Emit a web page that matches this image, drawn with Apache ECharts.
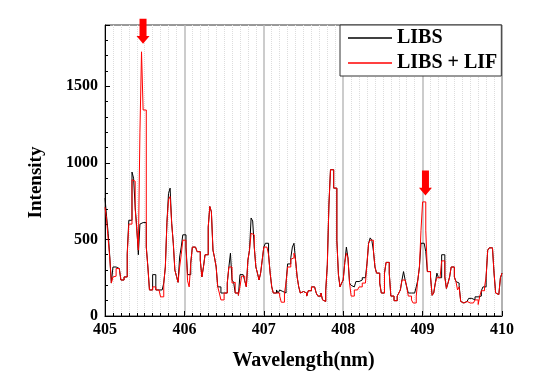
<!DOCTYPE html>
<html><head><meta charset="utf-8">
<script src="https://cdn.jsdelivr.net/npm/echarts@6/dist/echarts.min.js"></script>
<style>html,body{margin:0;padding:0;background:#fff}#c{width:552px;height:376px}</style>
</head><body><div id="c"></div>
<script>
const wlStart = 405, wlStep = 0.02;
const libs = [
770,650,540,390,215,320,320,310,310,300,
235,235,255,255,410,625,625,940,900,710,
580,400,600,610,610,610,450,320,170,170,
270,270,170,170,170,170,170,215,320,610,
800,835,605,475,300,260,220,385,450,530,
530,450,270,270,345,450,450,450,420,420,
365,255,320,400,400,580,715,680,430,380,
320,190,190,150,150,150,150,215,320,410,
235,220,150,150,135,270,270,280,230,190,
365,430,640,620,450,320,280,235,280,365,
450,475,475,400,280,190,150,150,170,150,
170,160,160,150,215,340,340,380,450,475,
365,255,190,150,160,160,150,130,165,165,
190,190,190,150,130,130,150,105,95,165,
335,725,955,955,835,835,495,270,190,215,
235,350,450,380,215,200,190,190,225,225,
235,235,250,250,250,345,475,510,495,430,
320,280,280,215,150,150,280,350,350,280,
130,130,100,100,130,150,170,235,290,235,
190,150,150,140,150,150,190,235,320,475,
475,475,420,290,290,255,135,150,215,280,
250,250,400,400,255,180,215,255,320,320,
255,225,215,200,95,85,95,95,105,115,
115,115,105,125,125,115,130,165,190,190,
255,430,445,445,445,280,150,140,140,250,280];
const libsLif = [
710,630,500,380,215,255,260,310,310,300,
235,235,255,255,400,600,600,890,880,700,
560,430,1200,1725,1345,1345,450,320,170,170,
190,190,170,170,160,125,125,215,320,610,
760,780,605,475,300,260,220,320,400,495,
495,450,230,190,345,450,450,450,420,420,
365,255,320,400,400,580,715,680,430,380,
320,190,150,105,105,150,150,215,320,320,
215,220,150,150,135,190,260,260,230,190,
365,430,540,530,450,320,280,235,280,365,
450,450,450,400,280,190,150,150,160,150,
130,90,90,150,215,320,320,370,380,410,
365,255,190,150,160,160,150,130,165,165,
190,190,190,150,130,130,150,105,95,165,
335,725,955,955,835,835,495,270,190,215,
235,350,410,380,215,130,130,170,170,170,
190,190,215,215,215,345,475,495,495,430,
320,280,280,215,150,150,280,350,350,280,
130,130,100,100,130,150,170,235,235,235,
190,130,130,105,85,85,130,235,320,560,
745,745,560,290,290,255,135,150,215,250,
250,250,360,360,255,180,215,255,320,320,
255,225,170,190,95,85,95,95,85,85,
95,85,95,105,105,75,130,165,165,190,
255,430,445,445,445,280,150,140,140,250,280];
const seriesNames = ['LIBS', 'LIBS + LIF'];
const arrowMarks = [[405.479, 1860], [409.036, 868]];
const yTicks = [0, 500, 1000, 1500];

const toPairs = arr => arr.map((v, i) => [+(wlStart + i * wlStep).toFixed(2), v]);
const serif = '"Liberation Serif","Times New Roman",serif';
const arrowPath = 'path://M3,0 L10,0 L10,18 L13,18 L6.5,26 L0,18 L3,18 Z';

const chart = echarts.init(document.getElementById('c'), null, {renderer: 'canvas'});
chart.setOption({
  animation: false,
  backgroundColor: '#fff',
  grid: {left: 105, right: 50, top: 25, bottom: 60, show: true, borderColor: '#333', borderWidth: 1},
  legend: {
    orient: 'vertical', left: 340, top: 25, padding: [3, 4, 3, 8], itemGap: 5,
    borderColor: '#333', borderWidth: 1, backgroundColor: '#fff',
    itemWidth: 44, itemHeight: 1.5, icon: 'rect',
    textStyle: {fontFamily: serif, fontWeight: 'bold', fontSize: 20, color: '#000'},
    data: seriesNames
  },
  xAxis: {
    type: 'value', min: 405, max: 410, interval: 1,
    name: 'Wavelength(nm)', nameLocation: 'middle', nameGap: 35,
    nameTextStyle: {fontFamily: serif, fontWeight: 'bold', fontSize: 20, color: '#000'},
    axisLine: {lineStyle: {color: '#000', width: 1}},
    axisTick: {inside: true, length: 5, lineStyle: {color: '#000'}},
    minorTick: {show: true, splitNumber: 10, length: 3, lineStyle: {color: '#000'}},
    axisLabel: {fontFamily: serif, fontWeight: 'bold', fontSize: 16, color: '#000', margin: 6},
    splitLine: {show: true, lineStyle: {color: '#bbb', width: 1.5}},
    minorSplitLine: {show: true, lineStyle: {color: '#ddd', type: 'dotted', width: 1}}
  },
  yAxis: {
    type: 'value', min: 0, max: 1900, interval: 500,
    name: 'Intensity', nameLocation: 'middle', nameGap: 59,
    nameTextStyle: {fontFamily: serif, fontWeight: 'bold', fontSize: 19, color: '#000', padding: [0, 24, 0, 0]},
    axisLine: {show: true, lineStyle: {color: '#000', width: 1}},
    axisTick: {show: true, inside: true, length: 5, lineStyle: {color: '#000'}},
    minorTick: {show: true, splitNumber: 5, length: 3, lineStyle: {color: '#000'}},
    axisLabel: {fontFamily: serif, fontWeight: 'bold', fontSize: 16, color: '#000', margin: 7,
      formatter: v => yTicks.includes(v) ? String(v) : ''},
    splitLine: {show: false}
  },
  series: [
    {name: seriesNames[0], type: 'line', step: 'end', showSymbol: false, symbol: 'none',
     data: toPairs(libs), color: '#000', lineStyle: {color: '#000', width: 1}},
    {name: seriesNames[1], type: 'line', step: 'end', showSymbol: false, symbol: 'none',
     data: toPairs(libsLif), color: '#ff0000', lineStyle: {color: '#ff0000', width: 1},
     markPoint: {
       symbol: arrowPath, symbolSize: [13, 25], label: {show: false},
       itemStyle: {color: '#ff0000'},
       data: arrowMarks.map(c => ({coord: c}))
     }}
  ]
});
</script></body></html>
